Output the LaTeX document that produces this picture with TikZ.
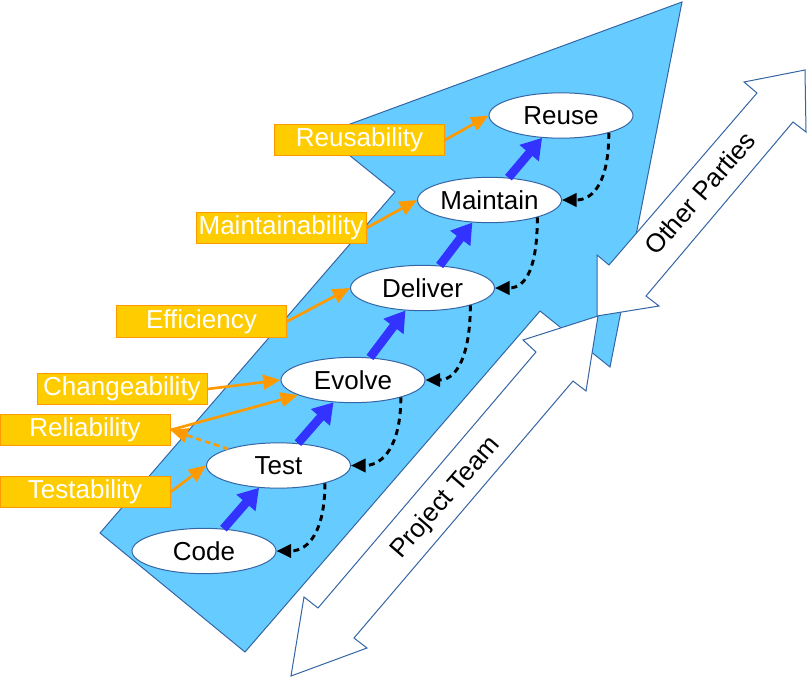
\documentclass[tikz,border=0pt]{standalone}
\usepackage{fontspec}
\setmainfont{Liberation Sans}
\usetikzlibrary{shapes.geometric,arrows.meta}

\definecolor{sky}{HTML}{66CCFF}
\definecolor{edge}{HTML}{3465A4}
\definecolor{gold}{HTML}{FFCC00}
\definecolor{amber}{HTML}{FF9900}
\definecolor{royal}{HTML}{3333FF}

\newcommand{\figfont}{\fontsize{19.5}{23}\selectfont}

\tikzset{every picture/.style={line width=0.75pt}}
\tikzset{
  stage/.style={ellipse, draw=edge, fill=white, minimum width=108pt, minimum height=34pt, inner sep=0pt, font=\figfont},
  quality/.style={rectangle, draw=amber, fill=gold, text=white, minimum width=127.5pt, minimum height=23.5pt, inner sep=0pt, font=\figfont},
  flow/.style={royal, line width=6.5pt, -{Triangle[length=15pt,width=18pt]}},
  loopback/.style={black, line width=2.2pt, dash pattern=on 4.5pt off 3.5pt, -{Triangle[length=11pt,width=10pt]}},
  hint/.style={amber, line width=2pt, -{Triangle[length=13pt,width=11pt]}},
  team/.style={draw=edge, fill=white, line width=0.75pt},
}

\begin{document}
\begin{tikzpicture}[x=0.75pt,y=0.75pt,yscale=-1,xscale=1]
\useasboundingbox (0,0) rectangle (807,678);

% big arrow
\draw [draw=edge, fill=sky] (682,2) -- (323,134) -- (395,192) -- (100,533) -- (245,652) -- (540,311) -- (610,367) -- cycle;

% double arrows
\draw [team] (598,316) -- (523,340) -- (536,352) -- (318,608) -- (304,597) -- (291,676) -- (367,648) -- (354,638) -- (573,381) -- (586,391) -- cycle;
\draw [team] (805,70) -- (744,82) -- (757,93) -- (609,265) -- (597,255) -- (597,316) -- (659,306) -- (646,296) -- (793,122) -- (806,132) -- cycle;

\draw (446,498) node [rotate=49, font=\figfont] (team) {Project Team};
\draw (700,193) node [rotate=49, font=\figfont] (parties) {Other Parties};

% stages
\draw (204,551) node [stage] (code) {Code};
\draw (278.5,465.5) node [stage] (test) {Test};
\draw (353,380) node [stage] (evolve) {Evolve};
\draw (422.5,288) node [stage] (deliver) {Deliver};
\draw (489.5,200) node [stage] (maintain) {Maintain};
\draw (561,115.5) node [stage] (reuse) {Reuse};

\draw [flow] (code) -- (test);
\draw [flow] (test) -- (evolve);
\draw [flow] (evolve) -- (deliver);
\draw [flow] (deliver) -- (maintain);
\draw [flow] (maintain) -- (reuse);

\draw [loopback] (reuse.-20) .. controls +(0,48) and +(32,0) .. (maintain.east);
\draw [loopback] (maintain.-20) .. controls +(0,48) and +(32,0) .. (deliver.east);
\draw [loopback] (deliver.-20) .. controls +(0,48) and +(32,0) .. (evolve.east);
\draw [loopback] (evolve.-20) .. controls +(0,48) and +(32,0) .. (test.east);
\draw [loopback] (test.-21) .. controls +(0,48) and +(32,0) .. (code.east);

% qualities
\draw (359.5,140) node [quality] (reusab) {Reusability};
\draw (281,228) node [quality] (maintab) {Maintainability};
\draw (201.5,321.5) node [quality] (effic) {Efficiency};
\draw (122,389) node [quality] (changeab) {Changeability};
\draw (85,430) node [quality] (reliab) {Reliability};
\draw (85,492) node [quality] (testab) {Testability};

\draw [hint] (reusab.east) -- (reuse.west);
\draw [hint] (maintab.east) -- (maintain.west);
\draw [hint] (effic.east) -- (deliver.west);
\draw [hint] (changeab.east) -- (evolve.west);
\draw [hint] (reliab.east) -- (evolve);
\draw [hint, dash pattern=on 4pt off 3pt] (test) -- (reliab.east);
\draw [hint] (testab.east) -- (test.west);

\end{tikzpicture}
\end{document}
